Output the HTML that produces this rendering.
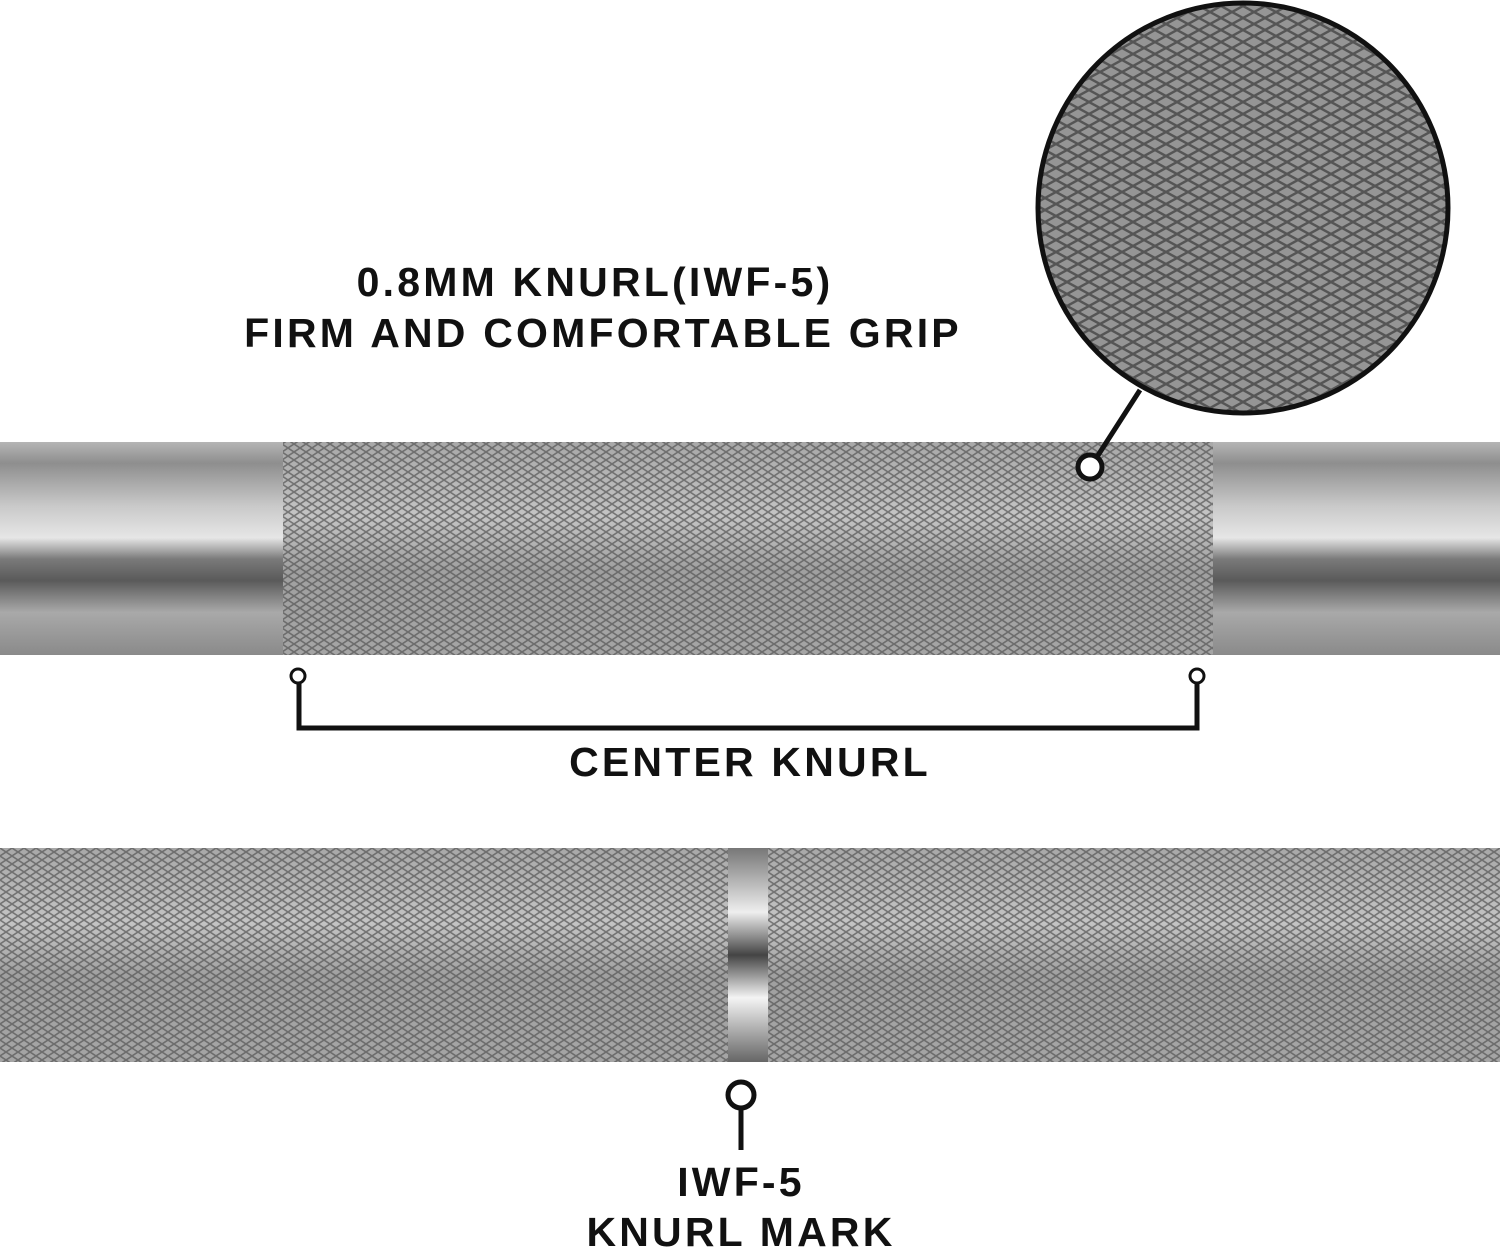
<!DOCTYPE html>
<html><head><style>
html,body{margin:0;padding:0;background:#fff;}
body{width:1500px;height:1252px;overflow:hidden;position:relative;font-family:"Liberation Sans",sans-serif;}
.t{position:absolute;font-weight:bold;font-size:41px;color:#111;text-align:center;letter-spacing:3.2px;white-space:nowrap;}
</style></head><body>
<svg width="1500" height="1252" style="position:absolute;left:0;top:0">
<defs>
<linearGradient id="bar" x1="0" y1="0" x2="0" y2="1">
<stop offset="0" stop-color="#b5b5b5"/><stop offset="0.1" stop-color="#8e8e8e"/>
<stop offset="0.3" stop-color="#c9c9c9"/><stop offset="0.45" stop-color="#e6e6e6"/>
<stop offset="0.55" stop-color="#7a7a7a"/><stop offset="0.65" stop-color="#5a5a5a"/>
<stop offset="0.8" stop-color="#a9a9a9"/><stop offset="1" stop-color="#8a8a8a"/>
</linearGradient>
<linearGradient id="kn" x1="0" y1="0" x2="0" y2="1">
<stop offset="0" stop-color="#a8a8a8"/><stop offset="0.35" stop-color="#c4c4c4"/>
<stop offset="0.6" stop-color="#a0a0a0"/><stop offset="1" stop-color="#a5a5a5"/>
</linearGradient>
<linearGradient id="ring" x1="0" y1="0" x2="0" y2="1">
<stop offset="0" stop-color="#777"/><stop offset="0.3" stop-color="#eee"/>
<stop offset="0.5" stop-color="#444"/><stop offset="0.7" stop-color="#f4f4f4"/><stop offset="1" stop-color="#666"/>
</linearGradient>
<pattern id="dia" width="12" height="8" patternUnits="userSpaceOnUse">
<path d="M0 0L12 8M12 0L0 8" stroke="#555" stroke-width="1.6" opacity="0.7"/>
</pattern>
<pattern id="dia2" width="22" height="12" patternUnits="userSpaceOnUse">
<path d="M0 0L22 12M22 0L0 12" stroke="#3a3a3a" stroke-width="2.5" opacity="0.7"/>
</pattern>
<clipPath id="cc"><circle cx="1243" cy="208" r="205"/></clipPath>
</defs>
<rect x="0" y="442" width="1500" height="213" fill="url(#bar)"/>
<rect x="283" y="442" width="930" height="213" fill="url(#kn)"/>
<rect x="283" y="442" width="930" height="213" fill="url(#dia)"/>
<g clip-path="url(#cc)">
<rect x="1030" y="0" width="430" height="420" fill="#959595"/>
<rect x="1030" y="0" width="430" height="420" fill="url(#dia2)"/>
</g>
<circle cx="1243" cy="208" r="205" fill="none" stroke="#111" stroke-width="5"/>
<line x1="1140" y1="390" x2="1095" y2="460" stroke="#111" stroke-width="5"/>
<circle cx="1090" cy="467" r="12" fill="#fff" stroke="#111" stroke-width="5"/>
<path d="M299 682V728H1197V682" fill="none" stroke="#111" stroke-width="5"/>
<circle cx="298" cy="676" r="7" fill="#fff" stroke="#111" stroke-width="3"/>
<circle cx="1197" cy="676" r="7" fill="#fff" stroke="#111" stroke-width="3"/>
<rect x="0" y="848" width="1500" height="214" fill="url(#kn)"/>
<rect x="0" y="848" width="1500" height="214" fill="url(#dia)"/>
<rect x="728" y="848" width="40" height="214" fill="url(#ring)"/>
<line x1="741" y1="1108" x2="741" y2="1150" stroke="#111" stroke-width="5"/>
<circle cx="741" cy="1095" r="13" fill="#fff" stroke="#111" stroke-width="5"/>
</svg>
<div class="t" style="left:295px;width:600px;top:259px">0.8MM KNURL(IWF-5)</div>
<div class="t" style="left:153px;width:900px;top:310px">FIRM AND COMFORTABLE GRIP</div>
<div class="t" style="left:450px;width:600px;top:739px">CENTER KNURL</div>
<div class="t" style="left:541px;width:400px;top:1159px">IWF-5</div>
<div class="t" style="left:441px;width:600px;top:1209px">KNURL MARK</div>
</body></html>
